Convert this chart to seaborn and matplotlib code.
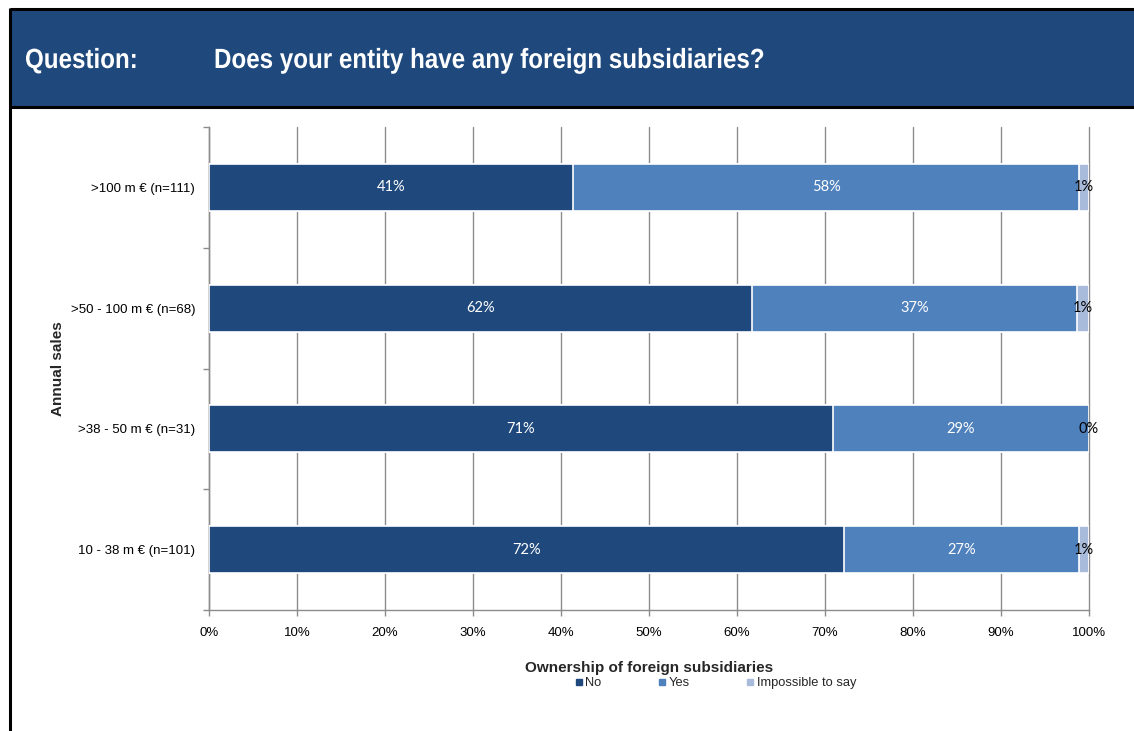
import matplotlib
matplotlib.use("Agg")
import matplotlib.pyplot as plt
from matplotlib.patches import Rectangle, PathPatch
from matplotlib.lines import Line2D
from matplotlib.textpath import TextPath
from matplotlib.font_manager import FontProperties
from matplotlib.transforms import Affine2D
from matplotlib.ticker import FixedLocator, PercentFormatter
import pandas as pd
import seaborn as sns

# Survey results by annual sales class (share of respondents, %)
categories = [">100 m € (n=111)", ">50 - 100 m € (n=68)",
              ">38 - 50 m € (n=31)", "10 - 38 m € (n=101)"]
no_share = [41.4, 61.7, 70.9, 72.2]
yes_share = [57.5, 36.9, 29.1, 26.7]
unsure_share = [1.1, 1.4, 0.0, 1.1]
series_names = ["No", "Yes", "Impossible to say"]
x_ticks = [0, 10, 20, 30, 40, 50, 60, 70, 80, 90, 100]

colors = ["#1F497D", "#4F81BD", "#A9BBDA"]
label_colors = ["white", "white", "black"]

sns.set_theme(style="white")
plt.rcParams["font.family"] = ["Liberation Sans", "DejaVu Sans"]

fig = plt.figure(figsize=(11.34, 7.31), dpi=100)
W, H = 1134, 731

# Header band with the question text
fig.patches.append(Rectangle((10 / W, 1 - 107 / H), 1 - 10 / W, 97 / H,
                             transform=fig.transFigure, facecolor="#1F497D",
                             edgecolor="none", zorder=0))
for (x0, y0, x1, y1, lw) in [(10, 9, W, 9, 2.2), (10, 107, W, 107, 2.2),
                             (10, 8, 10, H, 2.2)]:
    fig.lines.append(Line2D([x0 / W, x1 / W], [1 - y0 / H, 1 - y1 / H],
                            transform=fig.transFigure, color="black",
                            lw=lw, solid_capstyle="butt"))


def header_text(x_px, baseline_px, s, size=20, squeeze=0.87):
    """Draw condensed bold header text as a filled path."""
    prop = FontProperties(family="Liberation Sans", weight="bold")
    tp = TextPath((0, 0), s, size=size, prop=prop)
    tr = (Affine2D().scale(squeeze / 72.0, 1 / 72.0)
          .translate(x_px / 100.0, (H - baseline_px) / 100.0)
          + fig.dpi_scale_trans)
    fig.patches.append(PathPatch(tp, transform=tr, facecolor="white",
                                 edgecolor="none", lw=0, zorder=3))


header_text(25, 68, "Question:")
header_text(214, 68, "Does your entity have any foreign subsidiaries?")

ax = fig.add_axes([209 / W, 1 - 610 / H, 880 / W, 483 / H])

df = pd.DataFrame({"category": categories, "No": no_share,
                   "Yes": yes_share, "Impossible to say": unsure_share})
cum = df[series_names].cumsum(axis=1).assign(category=df["category"])

# Stacked bars: draw cumulative totals from the longest to the shortest
for name, color in zip(reversed(series_names), reversed(colors)):
    sns.barplot(data=cum, x=name, y="category", order=categories, orient="h",
                color=color, width=0.39, saturation=1, edgecolor="white",
                linewidth=1.2, ax=ax, zorder=3)

# Value labels centred in each segment
for i, cat in enumerate(categories):
    left = 0.0
    for name, tc in zip(series_names, label_colors):
        v = df.loc[i, name]
        ax.text(left + v / 2, i, f"{v:.0f}%", ha="center", va="center",
                color=tc, fontsize=10.5, family=["Lato", "DejaVu Sans"],
                zorder=5)
        left += v

ax.set_xlim(0, 100)
ax.set_ylim(3.5, -0.5)
ax.xaxis.set_major_locator(FixedLocator(x_ticks))
ax.xaxis.set_major_formatter(PercentFormatter(decimals=0))
ax.grid(axis="x", color="#8C8C8C", lw=1, zorder=0)
for gl in ax.get_xgridlines():
    gl.set_clip_on(False)
ax.set_axisbelow(True)
for s in ["top", "right"]:
    ax.spines[s].set_visible(False)
for s in ["left", "bottom"]:
    ax.spines[s].set_color("#8C8C8C")
    ax.spines[s].set_linewidth(1)

ax.tick_params(axis="x", which="major", direction="out", length=4, width=1,
               color="#8C8C8C", labelsize=9.5, pad=8, bottom=True)
ax.tick_params(axis="y", which="major", length=0, labelsize=9.5, pad=10)
ax.yaxis.set_minor_locator(FixedLocator([-0.5, 0.5, 1.5, 2.5, 3.5]))
ax.tick_params(axis="y", which="minor", direction="out", length=4, width=1,
               color="#8C8C8C", left=True)
for lab in ax.get_xticklabels() + ax.get_yticklabels():
    lab.set_color("black")

ax.set_ylabel("Annual sales", fontsize=11, fontweight="bold", labelpad=0)
ax.yaxis.set_label_coords((65 - 209) / 880, 0.5)
ax.set_xlabel("Ownership of foreign subsidiaries", fontsize=11,
              fontweight="bold")
ax.xaxis.set_label_coords(0.5, (610 - 661) / 483)

handles = [Line2D([], [], marker="s", linestyle="none", markersize=4,
                  markerfacecolor=c, markeredgecolor=c) for c in colors]
fig.legend(handles, series_names, loc="center", ncol=3, frameon=False,
           bbox_to_anchor=(715 / W, 1 - 683 / H), fontsize=9.3,
           handletextpad=0.1, columnspacing=4.3, handlelength=0.8)

fig.savefig("out.png", dpi=100, facecolor="white")
